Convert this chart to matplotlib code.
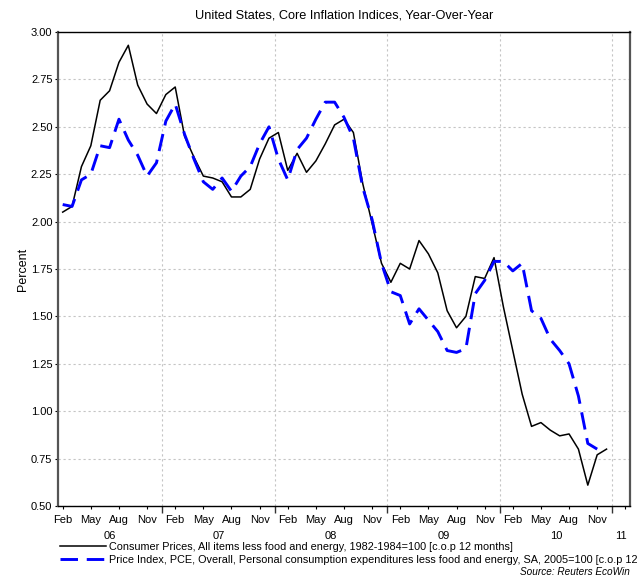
import matplotlib
matplotlib.use("Agg")
import matplotlib.pyplot as plt
import numpy as np

plt.rcParams["font.family"] = ["Liberation Sans", "DejaVu Sans"]

# monthly YoY %, Feb 2006 onwards
cpi_core = [
    2.05, 2.08, 2.29, 2.40, 2.64, 2.69, 2.84, 2.93, 2.72, 2.62, 2.57,          # 2006 Feb-Dec
    2.67, 2.71, 2.45, 2.34, 2.24, 2.23, 2.21, 2.13, 2.13, 2.17, 2.33, 2.44,    # 2007
    2.47, 2.27, 2.36, 2.26, 2.32, 2.41, 2.51, 2.54, 2.47, 2.20, 1.99, 1.78,    # 2008
    1.68, 1.78, 1.75, 1.90, 1.83, 1.73, 1.53, 1.44, 1.50, 1.71, 1.70, 1.81,    # 2009
    1.55, 1.32, 1.09, 0.92, 0.94, 0.90, 0.87, 0.88, 0.80, 0.61, 0.77, 0.80,    # 2010
]
pce_core = [
    2.09, 2.08, 2.22, 2.25, 2.40, 2.39, 2.54, 2.43, 2.35, 2.24, 2.31,
    2.53, 2.62, 2.46, 2.33, 2.21, 2.17, 2.23, 2.16, 2.24, 2.29, 2.41, 2.50,
    2.33, 2.22, 2.38, 2.44, 2.54, 2.63, 2.63, 2.55, 2.44, 2.18, 2.01, 1.78,
    1.63, 1.61, 1.46, 1.54, 1.48, 1.42, 1.32, 1.31, 1.33, 1.62, 1.69, 1.79,
    1.79, 1.74, 1.78, 1.53, 1.49, 1.38, 1.32, 1.25, 1.08, 0.83, 0.80,          # 2010 Jan-Nov
]
years = ["06", "07", "08", "09", "10", "11"]
month_names = ["Feb", "May", "Aug", "Nov"]
label_cpi = "Consumer Prices, All items less food and energy, 1982-1984=100 [c.o.p 12 months]"
label_pce = ("Price Index, PCE, Overall, Personal consumption expenditures less food and energy, "
             "SA, 2005=100 [c.o.p 12 months]")

# x axis in months since Jan 2006, points at mid-month
x_cpi = np.arange(1, 1 + len(cpi_core)) + 0.4
x_pce = np.arange(1, 1 + len(pce_core)) + 0.4

fig = plt.figure(figsize=(6.38, 5.76), dpi=100)
ax = fig.add_axes([58 / 638, 1 - 506 / 576, 572 / 638, 474 / 576])

ax.plot(x_cpi, cpi_core, color="black", lw=1.1, label=label_cpi)
ax.plot(x_pce, pce_core, color="#0000ff", lw=2.1, dashes=(6, 3), label=label_pce)

xmin, xmax = 0.9, 61.9
ax.set_xlim(xmin, xmax)
ax.set_ylim(0.5, 3.0)
ax.set_yticks(np.arange(0.5, 3.01, 0.25))
ax.yaxis.set_major_formatter(matplotlib.ticker.FormatStrFormatter("%.2f"))

# year boundaries as major ticks (grid), month labels as minor ticks
ax.set_xticks([12 * i for i in range(1, len(years))])
ax.set_xticklabels([])
mpos, mlab = [], []
for i in range(len(years)):
    for j, name in enumerate(month_names):
        p = 12 * i + 1 + 3 * j + 0.4
        if p < xmax:
            mpos.append(p)
            mlab.append(name if p + 1.2 < xmax else "")
ax.set_xticks(mpos, minor=True)
ax.set_xticklabels(mlab, minor=True)
ax.tick_params(axis="x", which="major", length=5, width=1.0, color="#333333")
ax.tick_params(axis="x", which="minor", length=2.5, width=0.8, labelsize=8, pad=4)
ax.tick_params(axis="y", length=2, labelsize=8, pad=2)

for i, yr in enumerate(years):
    lo, hi = max(12 * i, xmin), min(12 * (i + 1), xmax)
    ax.text((lo + hi) / 2, -0.063, yr, transform=ax.get_xaxis_transform(),
            ha="center", va="center", fontsize=8)

ax.grid(True, which="major", color="#c4c4c4", ls=(0, (2, 2.5)), lw=0.8)
for side in ["top", "bottom"]:
    ax.spines[side].set_color("black")
    ax.spines[side].set_linewidth(1.0)
for side in ["left", "right"]:
    ax.spines[side].set_color("#555555")
    ax.spines[side].set_linewidth(1.6)

ax.set_ylabel("Percent", fontsize=9, labelpad=1)
ax.set_title("United States, Core Inflation Indices, Year-Over-Year", fontsize=9.2, pad=10)

fig.legend(loc="upper left", bbox_to_anchor=(60 / 638, 1 - 542 / 576), frameon=False,
           fontsize=7.8, handlelength=4.2, handletextpad=0.35, labelspacing=0.3,
           borderpad=0, borderaxespad=0)
fig.text(630 / 638, 1 - 572 / 576, "Source: Reuters EcoWin", ha="right", va="center",
         fontsize=7.2, style="italic")

fig.savefig("out.png", dpi=100, facecolor="white")
